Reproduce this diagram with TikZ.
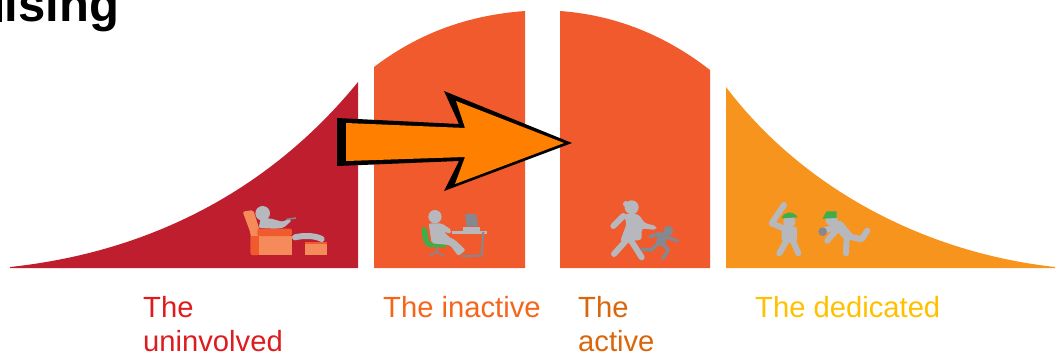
\documentclass[tikz,border=0pt]{standalone}
\usepackage{fontspec}
\setmainfont{Liberation Sans}
\definecolor{bellred}{HTML}{BE1E2D}
\definecolor{bellorange}{HTML}{F15A2C}
\definecolor{bellamber}{HTML}{F7941E}
\definecolor{arrowfill}{HTML}{FF7F00}
\definecolor{couchlight}{HTML}{F58A5B}
\definecolor{figgrey}{HTML}{B6B8BD}
\definecolor{figdark}{HTML}{85888F}
\definecolor{capgreen}{HTML}{3FAE49}
\definecolor{textred}{HTML}{DD1C1F}
\definecolor{textorange}{HTML}{F4661B}
\definecolor{textdark}{HTML}{D9660B}
\definecolor{textyellow}{HTML}{FFC000}
\tikzset{
  label/.style={font=\fontsize{29.2}{34.5}\selectfont, anchor=north west, align=left, inner sep=0pt},
  limb/.style={draw=figgrey, line width=6pt, line cap=round, line join=round},
  kidlimb/.style={draw=figdark, line width=3.5pt, line cap=round, line join=round},
  cropa/.style={shift={(220,190)}, x=0.3333pt, y=-0.3333pt},
  cropb/.style={shift={(590,190)}, x=0.3333pt, y=-0.3333pt}
}
\begin{document}
\begin{tikzpicture}[x=1pt, y=-1pt]
  \useasboundingbox (0,0) rectangle (1056,354);

  % Bell curve pieces
  \fill[bellred] (10,267) .. controls (150,252) and (270,190) .. (358,82) -- (358,268) -- (10,268) -- cycle;
  \fill[bellorange] (374,67) .. controls (420,32) and (470,15) .. (525,11) -- (525,268) -- (374,268) -- cycle;
  \fill[bellorange] (560,11) .. controls (615,15) and (665,35) .. (710,70) -- (710,268) -- (560,268) -- cycle;
  \fill[bellamber] (726,87) .. controls (800,185) and (920,252) .. (1055,267) -- (1055,268) -- (726,268) -- cycle;

  % Couch and viewer
  \begin{scope}[cropa]
    \fill[couchlight, rounded corners=2pt] (68,65) -- (100,60) -- (118,118) -- (118,195) -- (92,195) -- (92,130) -- cycle;
    \fill[bellorange] (92,138) rectangle (118,195);
    \fill[couchlight] (118,138) rectangle (215,195);
    \fill[bellorange, rounded corners=2pt] (112,116) rectangle (216,138);
    \fill[couchlight] (255,158) rectangle (320,195);
    \fill[bellorange] (255,155) rectangle (320,163);
    \fill[figgrey] (128,70) circle (22);
    \fill[figgrey, rounded corners=2pt] (116,114) -- (122,85) -- (150,85) -- (190,96) -- (205,85) -- (215,92) -- (190,114) -- (165,116) -- cycle;
    \draw[limb] (225,142) .. controls (250,136) and (285,136) .. (305,147);
    \draw[figdark, line width=1.5pt] (200,88) -- (228,84);
  \end{scope}

  % Desk worker
  \begin{scope}[cropa]
    \fill[capgreen, rounded corners=2pt] (604,112) -- (620,112) -- (628,158) -- (680,158) -- (680,172) -- (622,172) -- (608,150) -- cycle;
    \draw[figdark, line width=1.5pt] (650,172) -- (650,190) (628,198) -- (650,185) -- (672,198);
    \fill[figgrey] (645,80) circle (20);
    \fill[figgrey, rounded corners=2pt] (626,100) -- (665,100) -- (695,120) -- (690,132) -- (672,124) -- (685,140) -- (705,150) -- (737,180) -- (715,198) -- (690,165) -- (635,160) -- cycle;
    \fill[figdark] (735,72) -- (768,72) -- (775,108) -- (740,110) -- cycle;
    \fill[figgrey] (730,112) rectangle (780,122);
    \draw[figgrey, line width=3pt] (695,126) -- (800,126);
    \draw[figdark, line width=2pt] (790,126) -- (785,197) -- (725,198);
  \end{scope}

  % Mother and child
  \begin{scope}[cropb]
    \fill[figgrey] (125,52) circle (21) (108,42) circle (9);
    \fill[figgrey, rounded corners=3pt] (100,72) -- (145,72) -- (165,100) -- (200,108) -- (198,120) -- (155,115) -- (155,150) -- (90,155) -- (110,100) -- cycle;
    \draw[limb] (100,78) -- (70,108);
    \draw[limb] (110,150) -- (72,192) (122,150) -- (155,202);
    \fill[figdark] (235,122) circle (15);
    \fill[figdark, rounded corners=2pt] (205,125) -- (230,130) -- (228,165) -- (195,170) -- cycle;
    \draw[kidlimb] (228,140) -- (262,153) (210,130) -- (180,140);
    \draw[kidlimb] (198,165) -- (185,180) -- (155,178) (220,165) -- (235,180) -- (218,205);
  \end{scope}

  % Batter and fielder
  \begin{scope}[cropb]
    \fill[figgrey] (598,95) circle (18);
    \fill[capgreen] (575,85) .. controls (582,62) and (610,62) .. (624,82) -- cycle;
    \fill[figgrey, rounded corners=3pt] (575,108) -- (622,110) -- (620,160) -- (575,155) -- cycle;
    \draw[limb] (582,115) -- (545,100) -- (582,45);
    \draw[limb] (588,155) -- (568,190) (610,155) -- (625,190);
    \fill[figgrey] (725,90) circle (18);
    \fill[capgreen] (697,86) -- (710,64) -- (740,64) -- (740,84) -- cycle;
    \fill[figgrey, rounded corners=3pt] (722,100) -- (752,90) -- (792,138) -- (765,152) -- cycle;
    \draw[limb] (735,112) -- (700,122) (740,120) -- (712,152);
    \fill[figdark] (698,125) circle (13);
    \draw[limb] (770,145) -- (768,190) (780,140) -- (815,148) -- (832,122);
  \end{scope}

  % Arrow with its heavy shadow on the left
  \fill[black] (337,118) -- (459,124) -- (444,91) -- (572,143) -- (444,191) -- (459,161) -- (337,166) -- cycle;
  \fill[arrowfill] (346,123) -- (465,128) -- (456,101) -- (564,143) -- (455,184) -- (465,157) -- (346,161) -- cycle;

  % Labels
  \fill[black] (0,0) rectangle (2,22);
  \node[font=\fontsize{49}{49}\selectfont\bfseries, anchor=base west, inner sep=0pt] (title) at (4.5,21) {ising};
  \node[label, text=textred] (uninvolved) at (143,296) {The\\uninvolved};
  \node[label, text=textorange] (inactive) at (383,296) {The inactive};
  \node[label, text=textdark] (active) at (578,296) {The\\active};
  \node[label, text=textyellow] (dedicated) at (755,296) {The dedicated};
\end{tikzpicture}
\end{document}
